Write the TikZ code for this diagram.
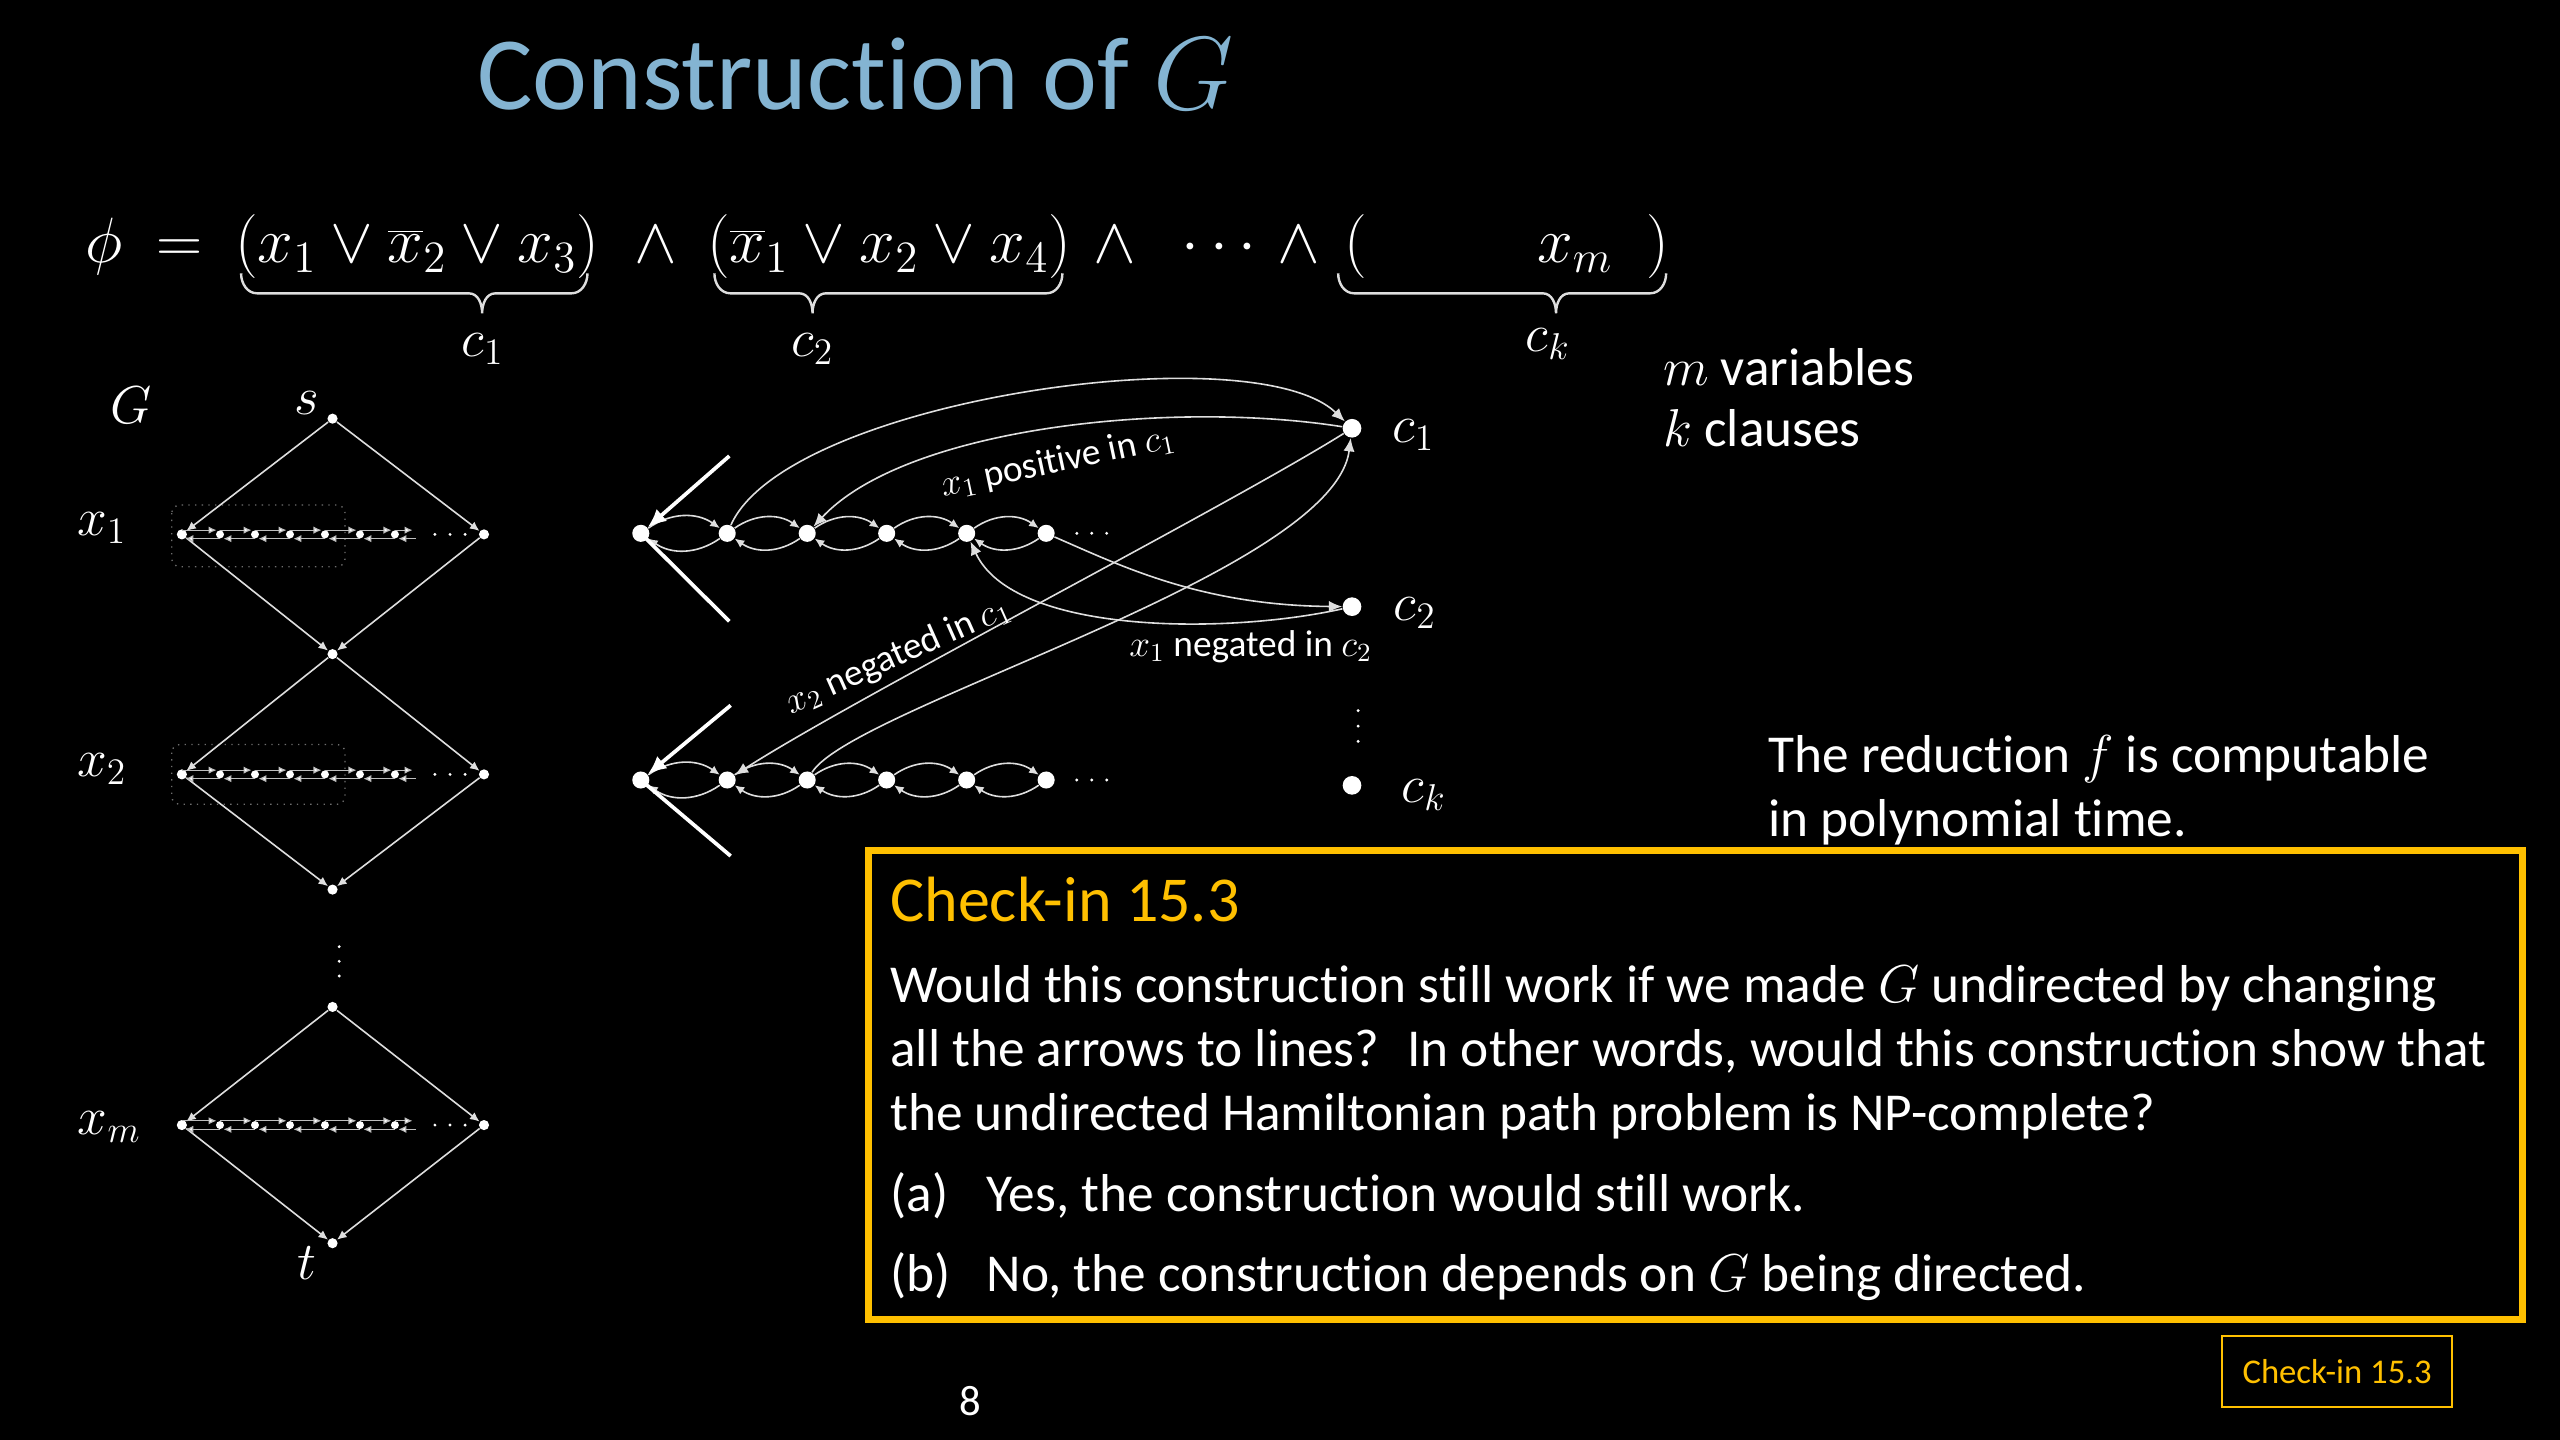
\RequirePackage{fix-cm}
\documentclass[tikz,border=0pt]{standalone}
\usepackage{fontspec}
\setmainfont{Carlito}[Ligatures={NoCommon}]
\usetikzlibrary{arrows.meta}
\definecolor{titleblue}{RGB}{132,180,210}
\definecolor{gold}{RGB}{255,192,0}
\definecolor{lgray}{RGB}{222,222,222}
\definecolor{mgray}{RGB}{190,190,190}
\definecolor{dgray}{RGB}{110,110,110}
\newcommand{\fsz}[1]{\fontsize{#1}{#1}\selectfont}
\begin{document}
\begin{tikzpicture}[x=1pt,y=1pt,
  every node/.style={text=white},
  txt/.style={anchor=base west,inner sep=0pt},
  ctr/.style={inner sep=0pt},
  gv/.style={circle,fill=white,inner sep=0pt,minimum size=3.8pt},
  tv/.style={circle,fill=white,inner sep=0pt,minimum size=3pt},
  bv/.style={circle,fill=white,inner sep=0pt,minimum size=6.4pt},
  cv/.style={circle,fill=white,inner sep=0pt,minimum size=7pt},
  darr/.style={draw=lgray,line width=0.6pt,-{Latex[length=3.6pt,width=3.2pt]}},
  tarr/.style={draw=mgray,line width=0.45pt,-{Latex[length=3pt,width=2.8pt,fill=white]},shorten >=1.3pt},
  carc/.style={draw=lgray,line width=0.6pt,-{Latex[length=3.6pt,width=3.2pt]}},
  bigc/.style={draw=lgray,line width=0.6pt,-{Latex[length=5pt,width=4.2pt]}},
  thickl/.style={draw=white,line width=1.4pt},
  brc/.style={draw=lgray,line width=0.9pt},
  dotbox/.style={draw=dgray,dotted,line width=0.5pt,rounded corners=3pt}
]
\fill[black] (0,0) rectangle (960,-540);
\useasboundingbox (0,0) rectangle (960,-540);

% title
\node[txt,text=titleblue,font=\fsz{39}] (title) at (178.8,-41) {Construction of $G$};

% formula
\begin{scope}[every node/.append style={txt,font=\fsz{24}}]
\node (phi) at (31.8,-98.5) {$\phi$};
\node (eq) at (58.6,-98.5) {$=$};
\node (cl1) at (88,-98.5) {$(x_1\vee\overline{x}_2\vee x_3)$};
\node (and1) at (237.7,-98.5) {$\wedge$};
\node (cl2) at (265,-98.5) {$(\overline{x}_1\vee x_2\vee x_4)$};
\node (and2) at (410,-98.5) {$\wedge$};
\node (cdots) at (443,-98.5) {$\cdots$};
\node (and3) at (479,-98.5) {$\wedge$};
\node (lp) at (504,-98.5) {$($};
\node (xmf) at (576.3,-98.5) {$x_m$};
\node (rp) at (617.3,-98.5) {$)$};
\end{scope}

% braces
\newcommand{\ubr}[3]{%
  \draw[brc] (#1,-102.5) to[out=-90,in=180] ({#1+6},-110) -- ({#3-5},-110)
     to[out=0,in=90] (#3,-117.5) to[out=90,in=180] ({#3+5},-110)
     -- ({#2-6},-110) to[out=0,in=-90] (#2,-102.5);}
\ubr{90.4}{220.3}{180.8}
\ubr{267.9}{398.4}{304.7}
\ubr{501.8}{624.8}{583.5}
\node[ctr,font=\fsz{20}] (lc1) at (181,-131) {$c_1$};
\node[ctr,font=\fsz{20}] (lc2) at (304.7,-131) {$c_2$};
\node[ctr,font=\fsz{20}] (lck) at (580.5,-129) {$c_k$};

% m variables, k clauses
\node[txt,font=\fsz{20}] (mv) at (623.5,-144.5) {$m$ variables};
\node[txt,font=\fsz{20}] (kc) at (623.5,-167.5) {$k$ clauses};

% ---------- left graph G ----------
\draw[dotbox] (64.4,-189.4) rectangle (129.4,-212.5);
\draw[dotbox] (64.4,-279.2) rectangle (129.4,-301.6);

\node[ctr,font=\fsz{20}] (lG) at (49,-152) {$G$};
\node[ctr,font=\fsz{20}] (ls) at (115.2,-151) {$s$};
\node[ctr,font=\fsz{20}] (lx1) at (38.2,-198) {$x_1$};
\node[ctr,font=\fsz{20}] (lx2) at (38.2,-288.5) {$x_2$};
\node[ctr,font=\fsz{20}] (lxm) at (41,-422.5) {$x_m$};
\node[ctr,font=\fsz{20}] (lt) at (115.2,-473.5) {$t$};

\node[gv] (s) at (124.7,-157) {};
\node[gv] (mid1) at (124.7,-245.3) {};
\node[gv] (bot2) at (124.7,-333.6) {};
\node[gv] (topm) at (124.7,-377.6) {};
\node[gv] (t) at (124.7,-466.2) {};
\node[gv] (L1) at (68.2,-200.4) {};
\node[gv] (R1) at (181.5,-200.4) {};
\node[gv] (L2) at (68.2,-290.4) {};
\node[gv] (R2) at (181.5,-290.4) {};
\node[gv] (Lm) at (68.2,-421.9) {};
\node[gv] (Rm) at (181.5,-421.9) {};

\draw[darr] (s) -- (L1);
\draw[darr] (s) -- (R1);
\draw[darr] (L1) -- (mid1);
\draw[darr] (R1) -- (mid1);
\draw[darr] (mid1) -- (L2);
\draw[darr] (mid1) -- (R2);
\draw[darr] (L2) -- (bot2);
\draw[darr] (R2) -- (bot2);
\draw[darr] (topm) -- (Lm);
\draw[darr] (topm) -- (Rm);
\draw[darr] (Lm) -- (t);
\draw[darr] (Rm) -- (t);

\foreach \r/\yy in {1/-200.4,2/-290.4,m/-421.9}{
  \foreach \i in {1,...,6}{\node[tv] (t\r\i) at ({82.5+13.12*(\i-1)},\yy) {};}
  \coordinate (t\r7) at (156,\yy);
  \foreach \p/\q in {L\r/t\r1,t\r1/t\r2,t\r2/t\r3,t\r3/t\r4,t\r4/t\r5,t\r5/t\r6,t\r6/t\r7}{
    \draw[tarr] ([yshift=1.6pt]\p.center) -- ([yshift=1.6pt]\q.center);
    \draw[tarr] ([yshift=-1.6pt]\q.center) -- ([yshift=-1.6pt]\p.center);
  }
  \foreach \xx in {163.1,168.75,174.4}{\fill[white] (\xx,\yy) circle (0.6pt);}
}
\foreach \yy in {-355,-360.5,-366}{\fill[white] (127.2,\yy) circle (0.6pt);}

% ---------- right gadget ----------
\foreach \j/\xx in {0/240.3,1/272.7,2/302.7,3/332.5,4/362.5,5/392.3}{
  \node[bv] (a\j) at (\xx,-200) {};
  \node[bv] (b\j) at (\xx,-292.5) {};
}
\foreach \i/\j in {0/1,1/2,2/3,3/4,4/5}{
  \draw[carc] (a\i) to[bend left=35] (a\j);
  \draw[carc] (a\j) to[bend left=35] (a\i);
  \draw[carc] (b\i) to[bend left=35] (b\j);
  \draw[carc] (b\j) to[bend left=35] (b\i);
}
\foreach \xx in {403.8,409.4,415}{
  \fill[white] (\xx,-200) circle (0.6pt);
  \fill[white] (\xx,-292.5) circle (0.6pt);
}
\coordinate (a0up) at (273.5,-171);
\coordinate (a0dn) at (273.5,-233);
\coordinate (b0up) at (274,-264.5);
\coordinate (b0dn) at (274,-321);
\draw[thickl,-{Latex[length=7pt,width=6pt]}] (a0up) -- (a0);
\draw[thickl] (a0.center) -- (a0dn);
\draw[thickl,-{Latex[length=7pt,width=6pt]}] (b0up) -- (b0);
\draw[thickl] (b0.center) -- (b0dn);

\node[cv] (c1) at (507,-160.6) {};
\node[cv] (c2) at (507,-227.5) {};
\node[cv] (ck) at (507,-294.5) {};
\node[ctr,font=\fsz{20}] (lcc1) at (530,-163) {$c_1$};
\node[ctr,font=\fsz{20}] (lcc2) at (530.6,-230) {$c_2$};
\node[ctr,font=\fsz{20}] (lcck) at (534,-298) {$c_k$};
\foreach \yy in {-266.5,-272.3,-278}{\fill[white] (509.3,\yy) circle (0.6pt);}

\draw[bigc] (a1) .. controls (295,-150) and (470,-125) .. (c1);
\draw[bigc] (c1) .. controls (440,-150) and (340,-160) .. (a2);
\draw[bigc] (a5) .. controls (420,-212) and (450,-227) .. (c2);
\draw[bigc] (c2) .. controls (460,-238) and (380,-238) .. (a4);
\draw[bigc] (c1) .. controls (460,-190) and (320,-262) .. (b1);
\draw[bigc] (b2) .. controls (320,-265) and (500,-215) .. (c1);

\node[ctr,font=\fsz{14},rotate=12] (lpos) at (396.7,-173.3) {$x_1$ positive in $c_1$};
\node[ctr,font=\fsz{14},rotate=24] (lneg2) at (336.7,-246) {$x_2$ negated in $c_1$};
\node[ctr,font=\fsz{14}] (lneg1) at (469,-242.4) {$x_1$ negated in $c_2$};

% reduction text
\node[txt,font=\fsz{20}] (red1) at (663,-289.6) {The reduction $f$ is computable};
\node[txt,font=\fsz{20}] (red2) at (663,-313.5) {in polynomial time.};

% check-in box
\node[draw=gold,line width=2.5pt,minimum width=620.2pt,minimum height=175.7pt,inner sep=0pt] (box) at (635.8,-406.85) {};
\node[txt,text=gold,font=\fsz{24}] (cht) at (333.7,-345.5) {Check-in 15.3};
\begin{scope}[every node/.append style={txt,font=\fsz{20}}]
\node (q1) at (333.7,-375.9) {Would this construction still work if we made $G$ undirected by changing};
\node (q2) at (333.7,-399.8) {all the arrows to lines?~ In other words, would this construction show that};
\node (q3) at (333.7,-424) {the undirected Hamiltonian path problem is NP-complete?};
\node (oa) at (333.7,-454.3) {(a)};
\node (ta) at (369.8,-454.3) {Yes, the construction would still work.};
\node (ob) at (333.7,-484.3) {(b)};
\node (tb) at (369.8,-484.3) {No, the construction depends on $G$ being directed.};
\end{scope}

\node[draw=gold,line width=0.8pt,text=gold,font=\fsz{13},minimum width=86.4pt,minimum height=26.9pt,inner sep=0pt] (ci) at (876.4,-514.3) {Check-in 15.3};
\node[anchor=base,inner sep=0pt,font=\fsz{16}] (pg) at (363.7,-530.8) {8};
\end{tikzpicture}
\end{document}
